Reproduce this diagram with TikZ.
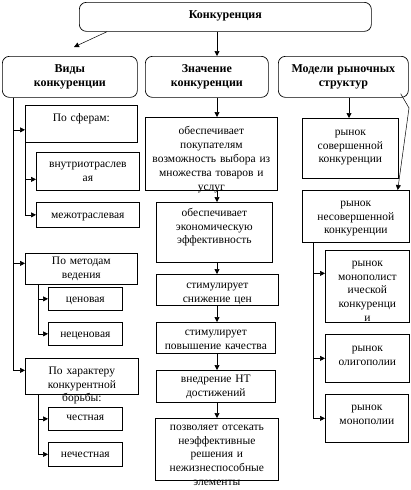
\documentclass[tikz,border=0pt]{standalone}
\usepackage{fontspec}
\setmainfont{Liberation Serif}
\usetikzlibrary{arrows.meta,calc}
\tikzset{
  kon/box/.style={draw, line width=0.7pt, inner sep=0pt, align=center,
                  anchor=north west, font=\fontsize{11.5}{13.8}\selectfont},
  kon/head/.style={kon/box, rounded corners=7pt,
                   font=\fontsize{12}{14.5}\selectfont\bfseries},
  kon/geom/.style n args={3}{text width=#1pt, text height=#2pt, text depth=#3pt},
  kon/arrow/.style={-{Triangle[length=5pt,width=5pt]}, line width=0.7pt},
  kon/thin arrow/.style={kon/arrow, line width=0.5pt},
}

\begin{document}
\begin{tikzpicture}[x=1pt, y=-1pt]
  \useasboundingbox (0,0) rectangle (410,490);

  % ---------------- headings ----------------
  \node[kon/head, kon/geom={292}{16.5}{12.5}] (konk) at (79,2) {Конкуренция};
  \node[kon/head, kon/geom={135}{16}{25}] (vidy) at (2,56) {Виды\\конкуренции};
  \node[kon/head, kon/geom={123}{16}{25}] (znach) at (145,56) {Значение\\конкуренции};
  \node[kon/head, kon/geom={130}{16}{25}] (model) at (278,56) {Модели рыночных\\структур};

  % ---------------- kinds ----------------
  \node[kon/box, kon/geom={112}{16}{21}] (sfer) at (25,105) {По сферам:};
  \node[kon/box, kon/geom={103}{15}{23}] (vnutri) at (36,152) {внутриотраслев\\ая};
  \node[kon/box, kon/geom={103}{16}{9}] (mezh) at (36,202) {межотраслевая};
  \node[kon/box, kon/geom={112}{11}{20}] (metod) at (25,253) {По методам\\ведения};
  \node[kon/box, kon/geom={74}{15}{8}] (cen) at (48,287) {ценовая};
  \node[kon/box, kon/geom={74}{15}{8}] (necen) at (48,322) {неценовая};
  \node[kon/box, kon/geom={113}{16}{20}] (harakt) at (25,358)
    {По характеру\\конкурентной\\борьбы:};
  \node[kon/box, kon/geom={74}{13}{10}] (chest) at (48,407) {честная};
  \node[kon/box, kon/geom={74}{15}{9}] (nechest) at (48,442) {нечестная};

  % ---------------- meaning ----------------
  \node[kon/box, kon/geom={132}{17.5}{55.5}] (m1) at (145,117)
    {обеспечивает\\покупателям\\возможность выбора из\\множества товаров и\\услуг};
  \node[kon/box, kon/geom={116}{14}{46}] (m2) at (156,202)
    {обеспечивает\\экономическую\\эффективность};
  \node[kon/box, kon/geom={122}{14}{17}] (m3) at (156,274) {стимулирует\\снижение цен};
  \node[kon/box, kon/geom={119}{13}{18}] (m4) at (156,322)
    {стимулирует\\повышение качества};
  \node[kon/box, kon/geom={119}{12}{20}] (m5) at (156,370) {внедрение НТ\\достижений};
  \node[kon/box, kon/geom={123}{12}{50}] (m6) at (155,418)
    {позволяет отсекать\\неэффективные\\решения и\\нежизнеспособные\\элементы};

  % ---------------- market models ----------------
  \node[kon/box, kon/geom={96}{17}{43}] (r1) at (302,118)
    {рынок\\совершенной\\конкуренции};
  \node[kon/box, kon/geom={107}{16}{36}] (r2) at (302,190)
    {рынок\\несовершенной\\конкуренции};
  \node[kon/box, kon/geom={84}{16}{56}] (r3) at (325,250)
    {рынок\\монополист\\ической\\конкуренци\\и};
  \node[kon/box, kon/geom={84}{17}{31}] (r4) at (325,334) {рынок\\олигополии};
  \node[kon/box, kon/geom={83}{16}{32}] (r5) at (325,394) {рынок\\монополии};

  % ---------------- connectors ----------------
  \coordinate (vtip) at (74,47);
  \coordinate (mcol) at (217,0);
  \coordinate (rcol) at (349,0);
  \coordinate (bend) at (409,108);

  \draw[kon/thin arrow] ([xshift=28pt]konk.south west) -- (vtip);
  \draw[kon/arrow] (konk.south -| mcol) -- (znach.north -| mcol);

  % kinds: main trunk and branches
  \draw[kon/arrow] ([xshift=11pt]vidy.south west) |- ([yshift=-6pt]sfer.west);
  \draw[kon/arrow] ([xshift=11pt]vidy.south west) |- ([yshift=5.5pt]metod.west);
  \draw[kon/arrow] ([xshift=11pt]vidy.south west) |- ([yshift=6pt]harakt.west);
  \draw[kon/arrow] (sfer.south west) |- ([yshift=-8pt]vnutri.west);
  \draw[kon/arrow] (sfer.south west) |- (mezh.west);
  \draw[kon/arrow] ([xshift=13pt]metod.south west) |- (cen.west);
  \draw[kon/arrow] ([xshift=13pt]metod.south west) |- (necen.west);
  \draw[kon/arrow] ([xshift=13pt]harakt.south west) |- (chest.west);
  \draw[kon/arrow] ([xshift=13pt]harakt.south west) |- (nechest.west);

  % meaning: chain
  \draw[kon/arrow] (znach.south -| mcol) -- (m1.north -| mcol);
  \draw[kon/arrow] (m1.south -| mcol) -- (m2.north -| mcol);
  \draw[kon/arrow] (m2.south -| mcol) -- (m3.north -| mcol);
  \draw[kon/arrow] (m3.south -| mcol) -- (m4.north -| mcol);
  \draw[kon/arrow] (m4.south -| mcol) -- (m5.north -| mcol);
  \draw[kon/arrow] (m5.south -| mcol) -- (m6.north -| mcol);

  % market models
  \draw[kon/arrow] (model.south -| rcol) -- (r1.north -| rcol);
  \draw[kon/thin arrow] ([xshift=-8pt,yshift=4pt]model.south east) -- (bend)
    -- ([xshift=-12pt]r2.north east);
  \draw[kon/arrow] ([xshift=11pt]r2.south west) |- ([yshift=13pt]r3.west);
  \draw[kon/arrow] ([xshift=11pt]r2.south west) |- (r4.west);
  \draw[kon/arrow] ([xshift=11pt]r2.south west) |- (r5.west);

\end{tikzpicture}
\end{document}
